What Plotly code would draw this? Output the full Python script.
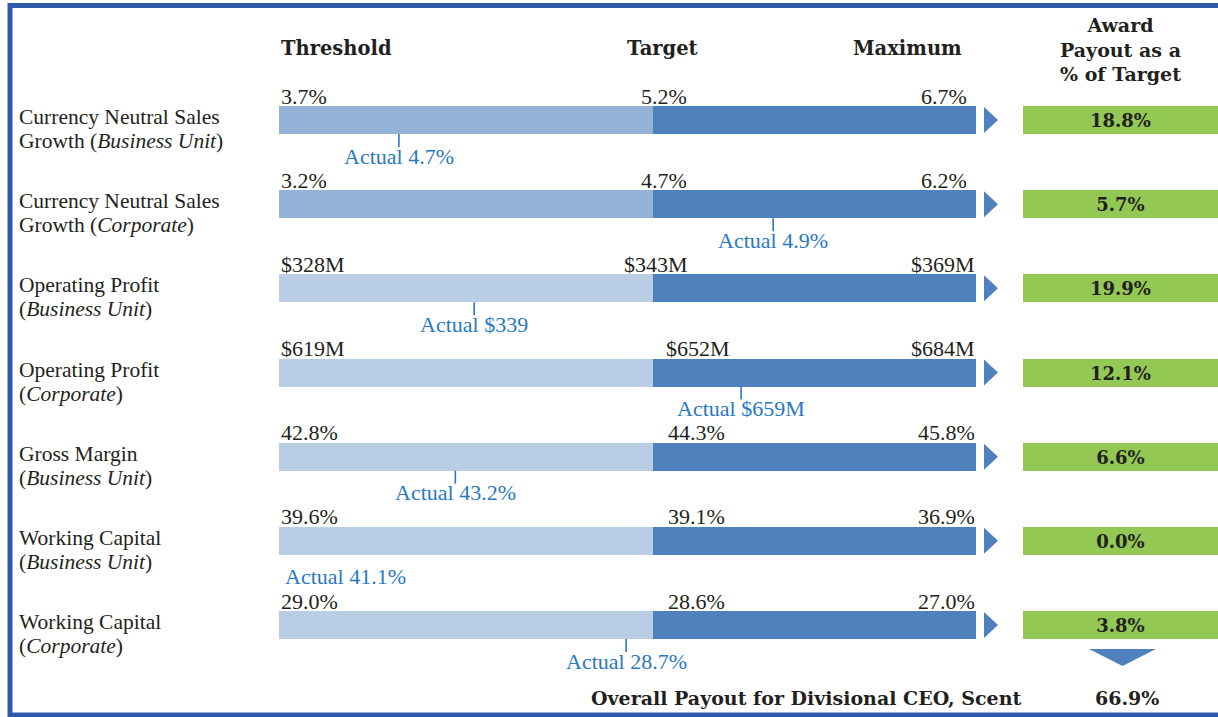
import plotly.graph_objects as go

# ---------------------------------------------------------------
# Data
# ---------------------------------------------------------------
metric_lines = [
    ("Currency Neutral Sales", "Growth (<i>Business Unit</i>)"),
    ("Currency Neutral Sales", "Growth (<i>Corporate</i>)"),
    ("Operating Profit", "(<i>Business Unit</i>)"),
    ("Operating Profit", "(<i>Corporate</i>)"),
    ("Gross Margin", "(<i>Business Unit</i>)"),
    ("Working Capital", "(<i>Business Unit</i>)"),
    ("Working Capital", "(<i>Corporate</i>)"),
]
threshold_labels = ["3.7%", "3.2%", "$328M", "$619M", "42.8%", "39.6%", "29.0%"]
target_labels = ["5.2%", "4.7%", "$343M", "$652M", "44.3%", "39.1%", "28.6%"]
maximum_labels = ["6.7%", "6.2%", "$369M", "$684M", "45.8%", "36.9%", "27.0%"]
actual_labels = ["Actual 4.7%", "Actual 4.9%", "Actual $339", "Actual $659M",
                 "Actual 43.2%", "Actual 41.1%", "Actual 28.7%"]
# position of the actual marker along the bar (0 = threshold, 1 = maximum)
actual_pos = [0.172, 0.709, 0.280, 0.663, 0.253, 0.095, 0.498]
actual_tick = [True, True, True, True, True, False, True]
payout = ["18.8%", "5.7%", "19.9%", "12.1%", "6.6%", "0.0%", "3.8%"]
overall_label = "Overall Payout for Divisional CEO, Scent"
overall_value = "66.9%"

target_pos = 0.536  # where target sits along the bar
light_colors = ["#95B3D7", "#95B3D7", "#B9CDE5", "#B9CDE5", "#B9CDE5", "#B9CDE5", "#B9CDE5"]
DARK = "#4F81BD"
GREEN = "#92C853"
ACTUAL = "#2878C4"
TXT = "#231F20"
REG = "Liberation Serif"
BOLD = "DejaVu Serif"

W, H = 1218, 717
rows = list(range(len(metric_lines)))

# axis scaling: bar spans 0..1 from px 279 to 976; rows spaced ~84 px
BAR_L, BAR_R = 279, 976
UX = BAR_R - BAR_L
ROW0, ROWSTEP = 120, 84.17
x_range = [-BAR_L / UX, (W - BAR_L) / UX]
y_range = [(H - ROW0) / ROWSTEP, -ROW0 / ROWSTEP]
px = lambda p: (p - BAR_L) / UX          # pixel column -> x units
py = lambda p: p / ROWSTEP               # pixel height -> y units

fig = go.Figure()

# threshold -> target segment
fig.add_trace(go.Bar(
    y=rows, x=[target_pos] * len(rows), base=[0] * len(rows), orientation="h",
    width=py(28), marker=dict(color=light_colors, line_width=0),
    hoverinfo="skip", showlegend=False,
))
# target -> maximum segment
fig.add_trace(go.Bar(
    y=rows, x=[1 - target_pos] * len(rows), base=[target_pos] * len(rows),
    orientation="h", width=py(28), marker=dict(color=DARK, line_width=0),
    hoverinfo="skip", showlegend=False,
))
# award payout boxes
box_l, box_r = px(1023), px(1218)
fig.add_trace(go.Bar(
    y=rows, x=[box_r - box_l] * len(rows), base=[box_l] * len(rows),
    orientation="h", width=py(28), marker=dict(color=GREEN, line_width=0),
    text=[f"<b>{p}</b>" for p in payout], textposition="inside",
    insidetextanchor="middle",
    textfont=dict(family=BOLD, size=18, color=TXT),
    hoverinfo="skip", showlegend=False,
))

# right-pointing arrows
tx, ty = [], []
for r in rows:
    tx += [px(984), px(998), px(984), px(984), None]
    ty += [r - py(13), r, r + py(13), r - py(13), None]
fig.add_trace(go.Scatter(
    x=tx, y=ty, mode="lines", fill="toself", fillcolor=DARK,
    line=dict(width=0, color=DARK), hoverinfo="skip", showlegend=False,
))

# down arrow under the last payout box
last = rows[-1]
fig.add_trace(go.Scatter(
    x=[px(1089), px(1156), px(1122.5), px(1089)],
    y=[last + py(24), last + py(24), last + py(41), last + py(24)],
    mode="lines", fill="toself", fillcolor=DARK,
    line=dict(width=0, color=DARK), hoverinfo="skip", showlegend=False,
))

# actual tick marks
kx, ky = [], []
for r, p, t in zip(rows, actual_pos, actual_tick):
    if t:
        kx += [p, p, None]
        ky += [r + py(14), r + py(27), None]
fig.add_trace(go.Scatter(
    x=kx, y=ky, mode="lines", line=dict(color=ACTUAL, width=1.6),
    hoverinfo="skip", showlegend=False,
))

ann = []


def text(x, y, s, anchor="center", family=REG, size=22, color=TXT, xref="x",
         align="left"):
    ann.append(dict(x=x, y=y, xref=xref, yref="y", text=s, showarrow=False,
                    xanchor=anchor, yanchor="middle", align=align,
                    font=dict(family=family, size=size, color=color)))


tgt_anchor = ["right", "right", "right", "left", "left", "left", "left"]
tgt_x = [px(689), px(689), px(690), px(664), px(666), px(666), px(666)]
max_x = [px(969), px(969), px(977), px(977), px(977), px(977), px(977)]

for r in rows:
    l1, l2 = metric_lines[r]
    text(17 / W, r - py(3), l1, anchor="left", xref="paper", size=21.5)
    text(17 / W, r + py(21), l2, anchor="left", xref="paper", size=21.5)
    vy = r - py(24)
    text(0, vy, threshold_labels[r], anchor="left")
    text(tgt_x[r], vy, target_labels[r], anchor=tgt_anchor[r])
    text(max_x[r], vy, maximum_labels[r], anchor="right")
    text(actual_pos[r], r + py(36), actual_labels[r], color=ACTUAL)

# column headers
hy = -py(72)
text(0, hy, "<b>Threshold</b>", anchor="left", family=BOLD, size=19.5)
text(px(662), hy, "<b>Target</b>", family=BOLD, size=19.5)
text(px(907), hy, "<b>Maximum</b>", family=BOLD, size=19.5)
text(px(1120), -py(71), "<b>Award<br>Payout as a<br>% of Target</b>",
     family=BOLD, size=19, align="center")

# overall line
oy = last + py(73)
text(px(1023), oy, f"<b>{overall_label}</b>", anchor="right", family=BOLD, size=19)
text(px(1127), oy, f"<b>{overall_value}</b>", family=BOLD, size=19)

fig.update_layout(
    width=W, height=H,
    margin=dict(l=0, r=0, t=0, b=0),
    paper_bgcolor="white", plot_bgcolor="white",
    barmode="overlay", bargap=0,
    xaxis=dict(range=x_range, visible=False, fixedrange=True),
    yaxis=dict(range=y_range, visible=False, fixedrange=True),
    annotations=ann,
    shapes=[dict(type="rect", xref="paper", yref="paper",
                 x0=10 / W, x1=1.02, y0=1 - 5.5 / H, y1=1 - 715 / H,
                 line=dict(color="#2E58A8", width=5), layer="above")],
)

fig.write_html(
    "out.html",
    config={"displayModeBar": False},
    post_script="document.body.style.margin='0';document.body.style.overflow='hidden';",
)
